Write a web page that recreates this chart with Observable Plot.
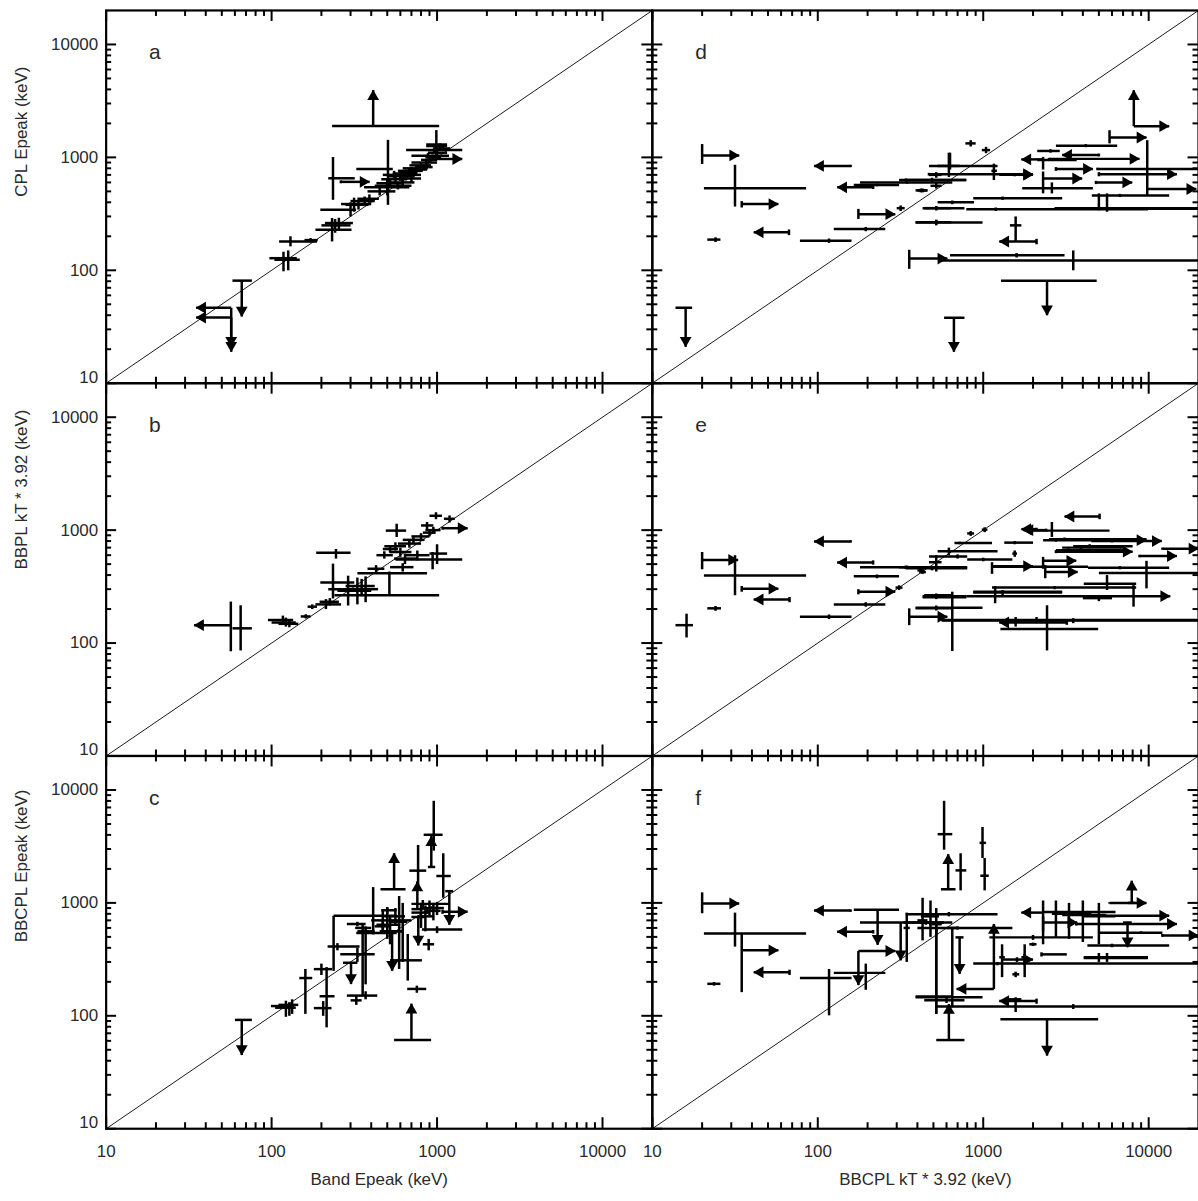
<!DOCTYPE html>
<html><head><meta charset="utf-8">
<script src="https://cdn.jsdelivr.net/npm/d3@7"></script>
<script src="https://cdn.jsdelivr.net/npm/@observablehq/plot@0.6"></script>
<style>html,body{margin:0;padding:0;overflow:hidden;background:#fff}</style>
</head><body><div id="chart"></div>
<script>
// ---- tick values and labels ----
const majorTicks = [10, 100, 1000, 10000];
const minorTicks = [20,30,40,50,60,70,80,90,200,300,400,500,600,700,800,900,2000,3000,4000,5000,6000,7000,8000,9000];
const tickLabels = ["10", "100", "1000", "10000"];
const panelLetters = ["a", "b", "c", "d", "e", "f"];
const xTitles = ["Band Epeak (keV)", "BBCPL kT * 3.92 (keV)"];
const yTitles = ["CPL Epeak (keV)", "BBPL kT * 3.92 (keV)", "BBCPL Epeak (keV)"];

// ---- data: [x, x1, x2, y, y1, y2, flags]  flags: l/r = arrow at x1/x2, d/u = arrow at y1/y2 ----
const panelA = [
 [118,97,142,128,98,146,""],[126,104,148,124,100,150,""],[130,111,188,180,163,200,""],
 [172,158,190,185,177,193,""],[232,184,304,229,180,290,""],[242,200,300,250,215,285,""],
 [255,210,310,262,232,292,""],[300,197,324,344,300,400,""],[315,263,400,386,330,440,""],
 [335,280,385,380,345,420,""],[365,300,420,410,375,450,""],[390,330,445,430,395,470,""],
 [235,220,318,653,421,1007,""],[262,262,391,607,590,625,"r"],[411,232,1030,1900,1900,3940,"u"],
 [505,325,540,790,380,1430,""],[500,362,680,543,460,640,""],[450,380,560,500,460,540,""],
 [520,430,620,590,540,640,""],[560,460,660,640,590,700,""],[600,500,700,680,620,740,""],
 [620,520,730,600,550,660,""],[650,540,760,720,670,780,""],[700,580,820,760,700,820,""],
 [750,620,880,800,740,860,""],[800,680,920,850,790,900,""],[860,700,1000,900,840,960,""],
 [880,700,1180,1036,980,1090,""],[960,650,1420,1160,1100,1220,""],[1040,860,1150,1260,1190,1330,""],
 [990,860,1150,1300,1007,1745,""],[985,985,1420,968,940,1000,"r"],[1000,880,1150,1100,1050,1150,""],
 [700,600,800,650,600,700,""],[550,470,640,700,650,760,""],[620,560,700,700,660,740,""],
 [680,600,760,740,700,790,""],[720,640,800,700,660,740,""],[780,700,870,780,740,830,""],
 [830,740,940,820,780,870,""],[900,800,1000,950,900,1000,""],[940,850,1060,1000,950,1060,""],
 [1080,950,1200,1200,1140,1260,""],[580,420,700,560,520,600,""],
 [66,58,76,81,39,81,"d"],[57,35,57,46.6,19,46.6,"ld"],[57,35,57,38.2,21,38.2,"ld"]
];
const panelB = [
 [56.7,34,56.7,144,84.5,233,"l"],[65,58,76,135,86,216,""],[117,95,135,160,145,175,""],
 [122,100,140,152,140,168,""],[128,110,145,148,138,160,""],[161,150,172,172,165,180,""],
 [176,165,188,210,200,220,""],[213,184,263,220,200,245,""],[225,195,255,232,215,250,""],
 [235,197,316,343,248,505,""],[245,186,300,630,560,680,""],[290,220,390,300,215,395,""],
 [330,250,400,290,220,380,""],[370,300,440,300,230,390,""],[350,280,420,320,260,370,""],
 [515,240,1030,265,265,405,""],[515,330,870,415,400,430,""],[428,380,480,455,420,490,""],
 [570,490,650,990,870,1140,""],[480,430,540,600,560,650,""],[520,470,580,680,630,730,""],
 [560,480,650,720,660,780,""],[600,520,700,640,580,700,""],[640,550,760,560,500,620,""],
 [680,580,800,760,700,820,""],[720,620,840,820,760,880,""],[760,640,900,600,540,660,""],
 [800,700,900,880,820,940,""],[940,560,1420,550,450,640,""],[1000,900,1150,620,500,750,""],
 [985,900,1070,1340,1250,1440,""],[1190,1100,1280,1260,1170,1350,""],[870,800,950,1100,1020,1180,""],
 [1080,1080,1530,1040,1010,1070,"r"],[900,820,980,950,880,1020,""],[950,850,1050,1000,930,1070,""],
 [620,520,720,470,430,510,""]
];
const panelC = [
 [66,60,76,92,45,92,"d"],[122,99,137,122,98,136,""],[128,105,140,118,100,132,""],
 [133,110,145,125,104,140,""],[160,147,176,216,104,260,""],[200,180,232,259,230,290,""],
 [215,195,240,149,79,270,""],[205,180,230,117,100,135,""],[237,237,570,770,250,770,""],
 [250,218,340,410,380,440,""],[302,270,330,295,191,295,"d"],[330,260,420,350,300,400,""],
 [355,320,400,600,150,650,""],[370,330,420,560,190,620,""],[330,285,370,650,620,680,""],
 [370,285,435,151,140,165,""],[325,300,350,137,125,150,""],[411,325,570,540,525,1380,""],
 [550,455,645,1320,1320,2750,"u"],[955,830,1080,4010,2900,8020,""],[923,880,975,2080,2080,3900,"u"],
 [768,680,860,1930,1370,3260,""],[1090,990,1210,1730,1110,2750,""],[760,700,830,880,880,1550,"u"],
 [1080,1080,1530,834,800,870,"r"],[1186,1120,1250,1270,640,1270,"d"],[755,660,860,173,160,185,""],
 [700,550,920,61,61,128,"u"],[665,520,810,310,205,530,""],[470,400,560,700,560,880,""],
 [500,430,600,640,480,900,""],[520,450,620,560,430,760,""],[535,470,610,560,250,560,"d"],
 [590,520,660,680,260,1150,""],[620,560,700,700,300,1000,""],[800,700,900,820,600,1000,""],
 [850,760,960,760,560,950,""],[890,820,960,430,380,480,""],[820,700,1190,980,900,1060,""],
 [1000,810,1420,580,540,620,""],[770,700,850,750,420,750,"d"],[900,800,1000,900,750,1050,""],
 [950,850,1050,850,700,1000,""],[1000,900,1100,900,780,1020,""],[560,480,640,760,650,900,""],
 [500,460,570,860,800,920,""],[470,420,520,620,550,700,""]
];
const panelD = [
 [20,20,33.5,1040,875,1312,"r"],[31.6,20.5,85,534,367,860,""],[34.7,34.7,57.8,386,360,410,"r"],
 [24.1,21.5,25.8,187,178,196,""],[67,41,67,217,205,230,"l"],[158,95,158,840,820,860,"l"],
 [216,131,216,543,525,560,"l"],[228,165,310,570,555,585,""],[346,180,650,600,585,615,""],
 [176,176,294,314,285,350,"r"],[317,300,335,355,335,375,""],[195,125,256,232,222,242,""],
 [117,78,160,183,175,191,""],[15.9,13.8,17.4,46.6,21,46.6,"d"],[357,357,607,127,103,152,"r"],
 [665,580,770,38,19,38,"d"],[630,530,720,840,780,1100,""],[520,470,560,700,660,740,""],
 [520,480,560,560,530,600,""],[430,400,460,510,490,530,""],[520,440,640,355,340,370,""],
 [520,390,640,267,255,280,""],
 [8130,8130,13300,1890,1890,3930,"ru"],[5800,5800,9700,1500,1330,1740,"r"],[9800,9800,19400,525,465,1420,"r"],
 [6700,4530,13300,460,445,475,""],[4170,2750,6450,1270,1230,1310,""],[2550,2120,2900,1140,1100,1180,""],
 [5000,3000,5000,1050,1020,1080,"l"],[2300,1700,2300,960,780,1010,"l"],[2600,2120,3670,950,930,970,""],
 [2500,2500,8800,970,950,990,"r"],[2750,2750,4600,790,760,820,"r"],[5000,5000,14800,710,680,740,"r"],
 [4900,4900,20000,790,770,810,""],[2300,2300,3960,650,480,750,"r"],[4800,4800,7950,600,580,620,"r"],
 [1550,1250,2000,700,680,720,"r"],[2600,1720,4600,534,480,600,""],[840,780,900,1330,1250,1420,""],
 [1040,980,1100,1160,1090,1240,""],[620,470,1220,840,670,1100,""],[1160,1120,1210,760,630,880,""],
 [470,470,2000,710,690,730,"r"],[340,310,790,630,610,650,""],[490,340,790,630,600,660,""],
 [420,390,460,510,490,530,""],[1310,870,3000,435,420,450,""],[650,530,880,400,385,415,""],
 [520,430,770,355,340,370,""],[1190,790,9900,348,335,360,""],[5000,2700,20000,355,340,480,""],
 [5600,2700,20000,350,330,480,""],[520,390,990,265,250,280,""],[1570,1450,1700,250,180,300,""],
 [2100,1250,2100,180,170,190,"l"],[1590,630,3100,136,130,142,""],[3500,540,20000,122,100,150,""],
 [2430,1280,4850,81,40,81,"d"]
];
const panelE = [
 [20,20,33,545,450,640,"r"],[31.6,20.5,85,397,265,600,""],[34.7,34.7,57.8,303,285,320,"r"],
 [67.5,41,67.5,243,230,256,"l"],[24.1,21.5,26,203,193,213,""],[16.1,13.8,17.6,144,112,182,""],
 [158,95,158,795,775,815,"l"],[216,131,216,516,495,540,"l"],[346,180,650,470,455,485,""],
 [228,165,310,390,375,405,""],[176,176,294,285,270,300,"r"],[310,295,325,310,295,325,""],
 [195,125,256,220,210,230,""],[117,78,160,171,163,179,""],[430,410,450,425,410,440,""],
 [520,470,560,520,430,600,""],[520,440,640,265,255,275,""],[520,390,640,203,195,211,""],
 [357,357,607,171,144,203,"r"],
 [5050,3100,5050,1320,1250,1400,"l"],[2100,1700,2100,1020,990,1050,"l"],[2400,1750,2400,1000,970,1030,"l"],
 [2600,1800,5800,990,870,1180,""],[2750,2300,9700,815,790,840,"r"],[3100,2500,9700,830,800,860,""],
 [6000,4500,12000,800,780,820,"r"],[1550,1340,2000,775,750,800,""],[1550,1500,1600,620,580,660,""],
 [12100,12100,20000,685,670,700,"r"],[8800,8800,14800,590,575,605,"r"],[2750,2750,8000,645,625,665,"r"],
 [3270,2750,7000,665,640,690,""],[3900,3000,7000,700,670,730,""],[4400,3500,8000,720,690,750,""],
 [2300,2300,3650,535,455,580,"r"],[2370,2370,3720,425,375,490,"r"],[1130,1130,2000,480,410,520,"r"],
 [1800,1130,4300,475,460,490,""],[6700,4300,13300,465,450,480,""],[9700,5000,20000,418,305,535,""],
 [840,800,880,935,890,980,""],[1020,980,1060,1010,960,1060,""],[720,670,1130,770,750,790,""],
 [620,530,1220,650,600,700,""],[700,470,800,585,560,610,""],[1000,800,1500,550,530,570,""],
 [340,310,800,470,455,485,""],[490,340,800,460,440,480,""],[420,400,440,440,425,455,""],
 [5600,4050,8400,335,295,400,""],[2700,1130,8400,310,300,320,""],[1180,870,3000,285,225,320,""],
 [1310,870,3000,280,265,295,""],[650,430,790,260,85,285,""],[520,430,790,255,245,265,""],
 [8100,790,13500,260,210,326,"r"],[5000,4000,6000,250,235,265,""],[520,390,990,205,195,215,""],
 [3500,560,20000,158,150,166,""],[2100,560,20000,160,150,170,""],[3200,1250,3200,152,145,160,"l"],
 [2430,1270,4950,133,86,216,""],[1570,1400,1700,155,140,170,""]
];
const panelF = [
 [20,20,33.5,990,810,1240,"r"],[31.6,20.5,85,535,410,820,""],[34.7,34.7,57.8,380,162,530,"r"],
 [67.5,41,67.5,243,230,256,"l"],[23.6,21.5,25.8,192,185,199,""],[158,95,158,855,835,875,"l"],
 [216,131,216,555,535,575,"l"],[230,165,310,870,425,870,"d"],[176,176,294,375,187,375,"rd"],
 [195,125,256,240,170,290,""],[117,78,160,216,101,260,""],[317,180,650,670,310,670,"d"],
 [345,330,360,600,300,820,""],[430,400,460,700,465,1110,""],[480,420,540,760,500,1050,""],
 [520,470,560,650,520,900,""],[614,555,680,1320,1320,2700,"u"],[580,530,650,4060,2960,8020,""],
 [730,680,790,1940,1290,2750,""],[1020,960,1080,1740,1290,2500,""],[990,950,1040,3400,2500,4700,""],
 [520,390,650,148,104,600,""],[620,520,770,61,61,127,"u"],[620,340,1220,795,760,830,""],
 [450,330,580,670,640,700,""],[700,400,1500,600,580,620,""],[720,680,760,495,235,495,"d"],
 [650,600,700,600,119,600,""],[520,480,560,650,104,650,""],[520,390,990,146,140,152,""],
 [600,440,770,137,130,144,""],[3500,520,20000,121,115,127,""],[1160,690,1160,173,173,650,"lu"],
 [2000,1090,4600,495,470,520,""],[2100,1250,2100,135,128,142,"l"],[1570,1400,1700,140,108,146,""],
 [2430,1270,4950,93,44.4,93,"d"],[1570,1500,1650,233,220,246,""],[1220,870,20000,290,280,300,""],
 [1600,1300,2000,315,300,330,"r"],[1300,1250,1350,330,220,430,""],[1780,1700,1850,330,220,430,""],
 [2250,2250,3200,350,335,365,""],[2000,1900,2100,430,415,445,""],[7450,7000,7900,670,405,670,"d"],
 [7900,7500,8300,1000,1000,1570,"u"],[5800,5800,9700,1000,985,1015,"r"],[2300,1700,2300,820,430,1050,"l"],
 [2750,2300,6300,830,500,1050,""],[3300,2600,4500,800,480,1000,""],[4000,3000,5500,780,450,1050,""],
 [5000,4000,6300,760,430,1000,""],[5500,5500,13300,770,750,790,"r"],[3650,3650,14800,650,630,670,"r"],
 [12100,12100,20000,515,500,530,"r"],[6000,4260,13300,420,405,435,""],[2300,2300,3700,670,560,760,"r"],
 [9000,4950,12100,545,530,560,""],[5000,4050,9900,330,300,360,""],[5600,4050,9900,325,300,360,""]
];

// ---- layout ----
const W = 1202, H = 1201, ML = 105, MT = 10, MB = 69;
const PW = (W - ML) / 2, PH = (H - MT - MB) / 3;
const MAJ = 11, MIN = 6;
const FONT = "'Liberation Sans', Arial, Helvetica, sans-serif";
const TXT = "#2a2a2a";
const LW = 2.5;

const layout = [[panelA,"L","r1"],[panelB,"L","r2"],[panelC,"L","r3"],[panelD,"R","r1"],[panelE,"R","r2"],[panelF,"R","r3"]];
const pts = layout.flatMap(([arr, fx, fy]) => arr.map(([x,x1,x2,y,y1,y2,f]) => ({fx,fy,x,x1,x2,y,y1,y2,f})));
const heads = [];
for (const p of pts) {
  if (p.f.includes("l")) heads.push({fx:p.fx, fy:p.fy, x:p.x1, y:p.y, dir:"l"});
  if (p.f.includes("r")) heads.push({fx:p.fx, fy:p.fy, x:p.x2, y:p.y, dir:"r"});
  if (p.f.includes("d")) heads.push({fx:p.fx, fy:p.fy, x:p.x, y:p.y1, dir:"d"});
  if (p.f.includes("u")) heads.push({fx:p.fx, fy:p.fy, x:p.x, y:p.y2, dir:"u"});
}
const letterRows = layout.map(([, fx, fy], i) => ({fx, fy, t: panelLetters[i]}));
const yLab = ["r1","r2","r3"].flatMap(fy => majorTicks.map((v, i) => ({fx:"L", fy, v, t: tickLabels[i]})));
const xLab = ["L","R"].flatMap(fx => majorTicks.map((v, i) => ({fx, fy:"r3", v, t: tickLabels[i]})));
const xTit = ["L","R"].map((fx, i) => ({fx, fy:"r3", t: xTitles[i]}));
const yTit = ["r1","r2","r3"].map((fy, i) => ({fx:"L", fy, t: yTitles[i]}));

const HR = 4.4, HO = 6.4;
const headMark = (dir, rotate, dx, dy) => Plot.dot(heads.filter(d => d.dir === dir), {
  x: "x", y: "y", fx: "fx", fy: "fy", symbol: "triangle", r: HR, rotate, dx, dy, fill: "black", stroke: "none"
});

const chart = Plot.plot({
  width: W, height: H,
  marginLeft: ML, marginRight: 0, marginTop: MT, marginBottom: MB,
  x: {type: "log", domain: [10, 20000], axis: null},
  y: {type: "log", domain: [10, 20000], axis: null},
  fx: {domain: ["L","R"], padding: 0, axis: null},
  fy: {domain: ["r1","r2","r3"], padding: 0, axis: null},
  style: {fontFamily: FONT, background: "#fff", color: "black"},
  marks: [
    Plot.line([10, 20000], {x: d => d, y: d => d, stroke: "black", strokeWidth: 0.9}),
    // inward ticks on all four sides
    Plot.tickX(majorTicks, {x: d => d, insetTop: PH - MAJ, strokeWidth: 2}),
    Plot.tickX(majorTicks, {x: d => d, insetBottom: PH - MAJ, strokeWidth: 2}),
    Plot.tickX(minorTicks, {x: d => d, insetTop: PH - MIN, strokeWidth: 2}),
    Plot.tickX(minorTicks, {x: d => d, insetBottom: PH - MIN, strokeWidth: 2}),
    Plot.tickY(majorTicks, {y: d => d, insetRight: PW - MAJ, strokeWidth: 2}),
    Plot.tickY(majorTicks, {y: d => d, insetLeft: PW - MAJ, strokeWidth: 2}),
    Plot.tickY(minorTicks, {y: d => d, insetRight: PW - MIN, strokeWidth: 2}),
    Plot.tickY(minorTicks, {y: d => d, insetLeft: PW - MIN, strokeWidth: 2}),
    // error bars
    Plot.link(pts, {x1: "x1", x2: "x2", y1: "y", y2: "y", fx: "fx", fy: "fy", stroke: "black", strokeWidth: LW}),
    Plot.link(pts, {x1: "x", x2: "x", y1: "y1", y2: "y2", fx: "fx", fy: "fy", stroke: "black", strokeWidth: LW}),
    headMark("r", 90, -HO, 0),
    headMark("l", 270, HO, 0),
    headMark("u", 0, 0, HO),
    headMark("d", 180, 0, -HO),
    Plot.frame({stroke: "black", strokeWidth: 2.2}),
    // texts
    Plot.text(letterRows, {fx: "fx", fy: "fy", text: "t", frameAnchor: "top-left", textAnchor: "start", dx: 43, dy: 34, fontSize: 21, fill: TXT}),
    Plot.text(yLab.filter(d => d.v !== 10), {fx: "fx", fy: "fy", y: "v", text: "t", frameAnchor: "left", textAnchor: "end", dx: -8, fontSize: 17, fill: TXT}),
    Plot.text(yLab.filter(d => d.v === 10), {fx: "fx", fy: "fy", y: "v", text: "t", frameAnchor: "left", textAnchor: "end", dx: -8, dy: -6, fontSize: 17, fill: TXT}),
    Plot.text(xLab, {fx: "fx", fy: "fy", x: "v", text: "t", frameAnchor: "bottom", dy: 28, fontSize: 17, fill: TXT}),
    Plot.text(xTit, {fx: "fx", fy: "fy", text: "t", frameAnchor: "bottom", dy: 56, fontSize: 17, fill: TXT}),
    Plot.text(yTit, {fx: "fx", fy: "fy", text: "t", frameAnchor: "left", rotate: -90, dx: -85, fontSize: 17, fill: TXT})
  ]
});
document.getElementById("chart").appendChild(chart);
</script></body></html>
